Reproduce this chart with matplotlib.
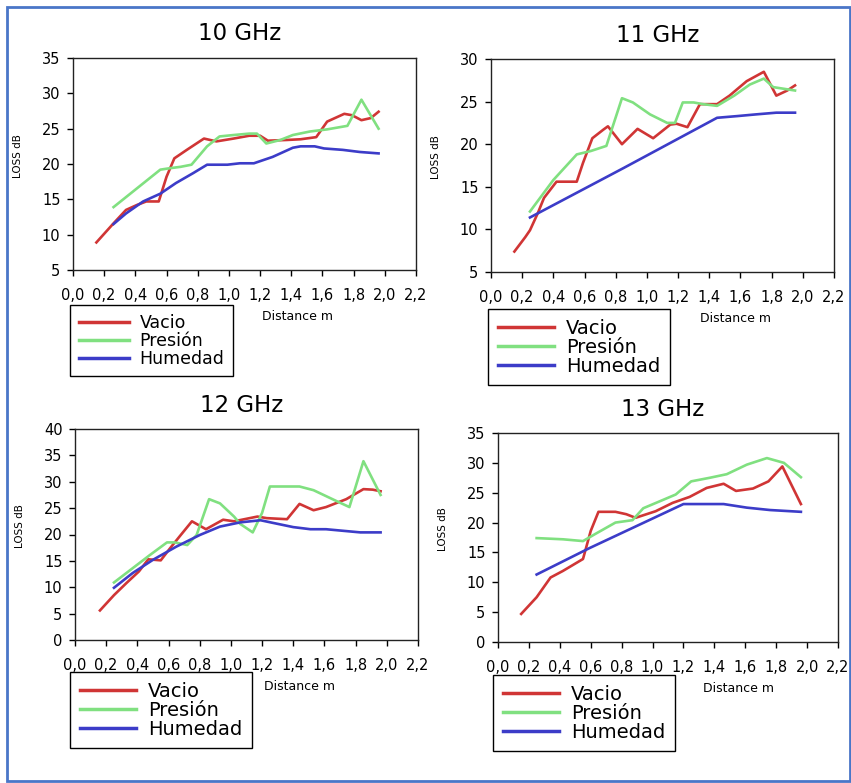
import numpy as np
import matplotlib
matplotlib.use("Agg")
import matplotlib.pyplot as plt
from matplotlib.patches import Rectangle

W, H = 851, 783

# ---- data (distance m, loss dB) ----
# 10 GHz
x10_vac = [0.15, 0.26, 0.34, 0.41, 0.47, 0.55, 0.60, 0.65, 0.73, 0.84, 0.92, 1.03, 1.13, 1.20, 1.25, 1.37, 1.46, 1.56, 1.63, 1.74, 1.79, 1.85, 1.91, 1.96]
y10_vac = [8.9, 11.6, 13.5, 14.2, 14.7, 14.7, 18.2, 20.8, 22.0, 23.6, 23.2, 23.6, 24.0, 24.0, 23.3, 23.4, 23.5, 23.8, 26.0, 27.1, 26.9, 26.2, 26.5, 27.4]
x10_pre = [0.26, 0.56, 0.62, 0.69, 0.76, 0.86, 0.94, 1.03, 1.13, 1.18, 1.24, 1.33, 1.41, 1.52, 1.63, 1.76, 1.85, 1.96]
y10_pre = [13.9, 19.2, 19.4, 19.6, 19.9, 22.5, 23.9, 24.1, 24.3, 24.3, 22.9, 23.4, 24.1, 24.6, 24.9, 25.4, 29.1, 25.0]
x10_hum = [0.26, 0.34, 0.45, 0.56, 0.66, 0.77, 0.86, 0.99, 1.07, 1.16, 1.28, 1.41, 1.46, 1.55, 1.61, 1.73, 1.84, 1.96]
y10_hum = [11.5, 13.0, 14.7, 15.8, 17.3, 18.7, 19.9, 19.9, 20.1, 20.1, 21.0, 22.3, 22.5, 22.5, 22.2, 22.0, 21.7, 21.5]

# 11 GHz
x11_vac = [0.15, 0.22, 0.25, 0.30, 0.34, 0.42, 0.55, 0.59, 0.65, 0.72, 0.75, 0.84, 0.94, 1.04, 1.15, 1.19, 1.26, 1.34, 1.45, 1.53, 1.64, 1.75, 1.83, 1.90, 1.95]
y11_vac = [7.4, 9.1, 9.9, 11.9, 13.7, 15.6, 15.6, 17.8, 20.7, 21.7, 22.1, 20.0, 21.8, 20.7, 22.3, 22.4, 22.0, 24.7, 24.7, 25.7, 27.4, 28.5, 25.7, 26.3, 26.9]
x11_pre = [0.25, 0.40, 0.55, 0.64, 0.74, 0.84, 0.91, 1.02, 1.13, 1.18, 1.23, 1.30, 1.36, 1.45, 1.56, 1.66, 1.75, 1.81, 1.95]
y11_pre = [12.1, 15.8, 18.8, 19.2, 19.8, 25.4, 24.9, 23.5, 22.5, 22.5, 24.9, 24.9, 24.7, 24.5, 25.7, 27.0, 27.7, 26.7, 26.3]
x11_hum = [0.25, 0.85, 1.45, 1.58, 1.70, 1.83, 1.95]
y11_hum = [11.4, 17.2, 23.1, 23.3, 23.5, 23.7, 23.7]

# 12 GHz
x12_vac = [0.16, 0.25, 0.33, 0.41, 0.47, 0.55, 0.61, 0.67, 0.75, 0.84, 0.95, 1.02, 1.12, 1.17, 1.23, 1.36, 1.44, 1.53, 1.61, 1.74, 1.85, 1.91, 1.96]
y12_vac = [5.6, 8.5, 10.8, 13.0, 15.3, 15.1, 17.4, 19.6, 22.5, 21.0, 22.8, 22.5, 23.1, 23.4, 23.1, 22.9, 25.8, 24.6, 25.2, 26.7, 28.6, 28.5, 28.2]
x12_pre = [0.25, 0.48, 0.59, 0.64, 0.72, 0.78, 0.86, 0.93, 1.02, 1.06, 1.14, 1.20, 1.25, 1.44, 1.53, 1.68, 1.76, 1.85, 1.96]
y12_pre = [10.9, 16.1, 18.5, 18.5, 18.0, 19.9, 26.7, 25.9, 23.4, 22.0, 20.4, 24.1, 29.1, 29.1, 28.4, 26.3, 25.2, 33.9, 27.5]
x12_hum = [0.25, 0.37, 0.50, 0.65, 0.80, 0.93, 1.06, 1.19, 1.27, 1.40, 1.51, 1.61, 1.72, 1.83, 1.96]
y12_hum = [9.9, 12.7, 15.2, 17.7, 19.9, 21.5, 22.3, 22.7, 22.2, 21.4, 21.0, 21.0, 20.7, 20.4, 20.4]

# 13 GHz
x13_vac = [0.15, 0.25, 0.34, 0.42, 0.55, 0.60, 0.65, 0.76, 0.83, 0.89, 1.02, 1.13, 1.24, 1.35, 1.46, 1.54, 1.65, 1.75, 1.84, 1.96]
y13_vac = [4.7, 7.5, 10.8, 11.9, 13.9, 18.6, 21.8, 21.8, 21.4, 20.8, 21.9, 23.3, 24.3, 25.8, 26.5, 25.3, 25.7, 26.9, 29.4, 23.1]
x13_pre = [0.25, 0.42, 0.55, 0.63, 0.76, 0.87, 0.94, 1.05, 1.15, 1.25, 1.37, 1.48, 1.61, 1.74, 1.85, 1.96]
y13_pre = [17.4, 17.2, 16.9, 18.1, 20.0, 20.4, 22.4, 23.6, 24.7, 26.9, 27.5, 28.1, 29.7, 30.8, 30.0, 27.6]
x13_hum = [0.25, 0.59, 1.20, 1.46, 1.61, 1.76, 1.96]
y13_hum = [11.3, 15.7, 23.1, 23.1, 22.5, 22.1, 21.8]

titles = ["10 GHz", "11 GHz", "12 GHz", "13 GHz"]
labels = ["Vacio", "Presión", "Humedad"]
colors = ["#d03535", "#80e080", "#3c3cc8"]
xticks = np.arange(0, 2.21, 0.2)
xticklabels = [f"{v:.1f}".replace(".", ",") for v in xticks]

panels = [
    # data, ylim, axes box (px: left, top, right, bottom), legend corner, legend size, "Distance m" x
    (((x10_vac, y10_vac), (x10_pre, y10_pre), (x10_hum, y10_hum)), (5, 35), (73, 58, 416, 270), (70, 305), 12.5, 262),
    (((x11_vac, y11_vac), (x11_pre, y11_pre), (x11_hum, y11_hum)), (5, 30), (491, 59, 834, 272), (488, 309), 14, 700),
    (((x12_vac, y12_vac), (x12_pre, y12_pre), (x12_hum, y12_hum)), (0, 40), (75, 429, 418, 640), (70, 672), 14, 264),
    (((x13_vac, y13_vac), (x13_pre, y13_pre), (x13_hum, y13_hum)), (0, 35), (498, 433, 838, 642), (493, 675), 14, 703),
]

fig = plt.figure(figsize=(W / 100, H / 100), dpi=100)

def fx(px):
    return px / W

def fy(py):
    return 1 - py / H

for i, (series, ylim, box, lg, lgsize, dx) in enumerate(panels):
    l, t, r, b = box
    ax = fig.add_axes([fx(l), fy(b), fx(r) - fx(l), (b - t) / H])
    for (xs, ys), c, lab in zip(series, colors, labels):
        ax.plot(xs, ys, color=c, lw=1.9, label=lab)
    ax.set_xlim(0, 2.2)
    ax.set_ylim(*ylim)
    ax.set_xticks(xticks)
    ax.set_xticklabels(xticklabels)
    ax.set_yticks(np.arange(ylim[0], ylim[1] + 1, 5))
    ax.tick_params(axis="x", direction="out", length=4, width=1, pad=9, labelsize=10.5)
    ax.tick_params(axis="y", direction="out", length=4, width=1, pad=5, labelsize=10.5)
    for s in ax.spines.values():
        s.set_linewidth(1)
        s.set_color("#222222")
    # title
    fig.text(fx((l + r) / 2 - 5), fy(t - 24), titles[i], ha="center", va="center", fontsize=16.5)
    # y label
    fig.text(fx(l - 55), fy((t + b) / 2 - 8), "LOSS dB", rotation=90, ha="center", va="center", fontsize=7.5)
    # x label
    fig.text(fx(dx), fy(b + 46), "Distance m", ha="left", va="center", fontsize=9)
    leg = ax.legend(loc="upper left", bbox_to_anchor=(fx(lg[0]), fy(lg[1])), bbox_transform=fig.transFigure,
                    borderaxespad=0, fancybox=False, edgecolor="black", framealpha=1, fontsize=lgsize,
                    labelspacing=0.0, handlelength=2.9, handletextpad=0.6, borderpad=0.5)
    leg.get_frame().set_linewidth(1)
    for h in leg.get_lines():
        h.set_linewidth(2.5)

# blue page border
fig.patches.append(Rectangle((fx(7), fy(781)), fx(843) - fx(0), (781 - 7) / H, transform=fig.transFigure,
                             fill=False, edgecolor="#4a76c8", linewidth=2))

fig.savefig("out.png", dpi=100)
